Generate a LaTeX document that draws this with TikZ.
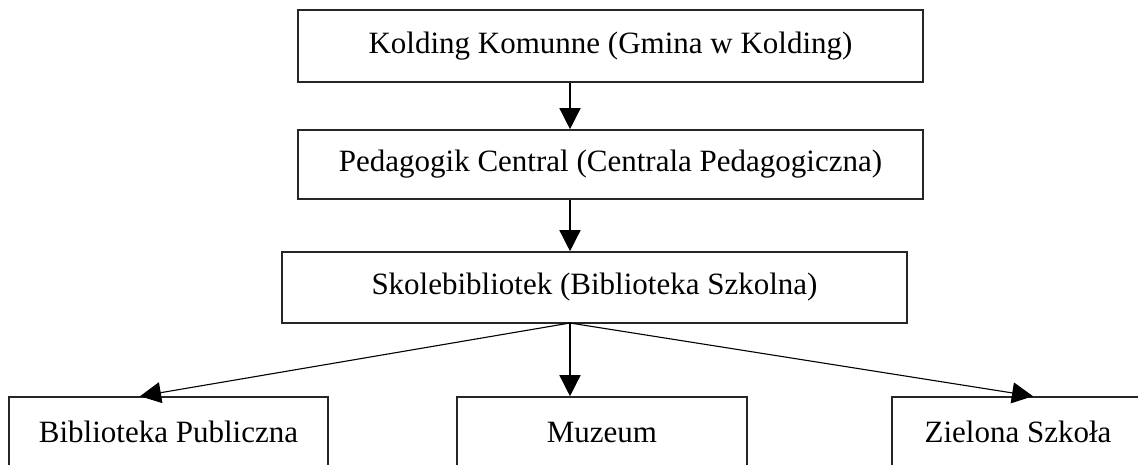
\documentclass[tikz,border=0pt]{standalone}
\usepackage{fontspec}
\setmainfont{Liberation Serif}
\usetikzlibrary{arrows.meta, positioning}
\tikzset{
  font=\fontsize{31}{36}\selectfont,
  % Set arrowhead
  >={Triangle[length=21pt, width=21pt]},
  % Unit box
  unit/.style={draw=black!85, line width=1.6pt, shape=rectangle, inner sep=0pt},
  % Arrows
  arr/.style={->, line width=1.4pt},
  % Thin slanted arrows
  sarr/.style={arr, line width=1.1pt},
}
\begin{document}
\begin{tikzpicture}[x=1pt, y=-1pt]
  \useasboundingbox (0,0) rectangle (1138,464);

  % upper chain
  \node[unit, minimum width=625pt, minimum height=72pt] (kolding) at (610.5,46)
    {Kolding Komunne (Gmina w Kolding)};
  \node[unit, minimum width=625pt, minimum height=69pt] (pedagogik) at (610.5,164.5)
    {Pedagogik Central (Centrala Pedagogiczna)};
  \node[unit, minimum width=625pt, minimum height=71pt] (skole) at (594.5,287.5)
    {Skolebibliotek (Biblioteka Szkolna)};

  % lower row
  \node[unit, minimum width=319pt, minimum height=70pt] (publiczna) at (168.5,432)
    {Biblioteka Publiczna};
  \node[unit, minimum width=290pt, minimum height=70pt] (muzeum) at (602,432)
    {Muzeum};
  \node[unit, minimum width=252pt, minimum height=70pt] (zielona) at (1018,432)
    {Zielona Szkoła};

  \coordinate (hub) at (570,323);

  \draw[arr] (kolding.south -| hub) -- (pedagogik.north -| hub);
  \draw[arr] (pedagogik.south -| hub) -- (skole.north -| hub);
  \draw[arr] (hub) -- (muzeum.north -| hub);
  \draw[sarr] (hub) -- ([xshift=-28.5pt]publiczna.north);
  \draw[sarr] (hub) -- ([xshift=15pt]zielona.north);
\end{tikzpicture}
\end{document}
